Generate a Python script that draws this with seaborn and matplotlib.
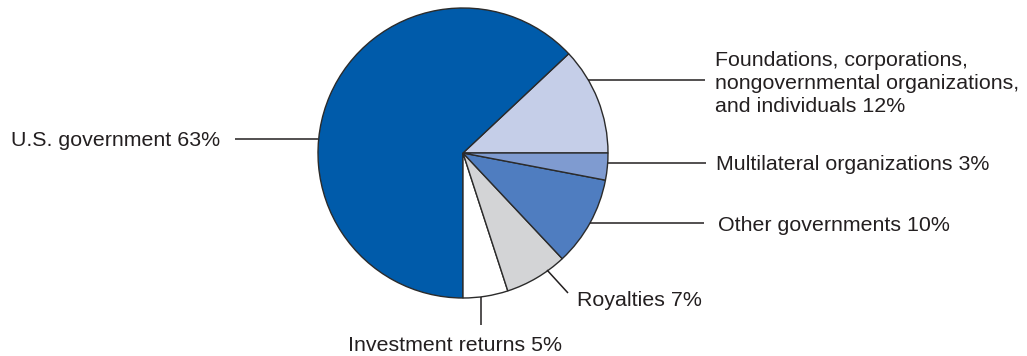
import matplotlib
matplotlib.use("Agg")
import matplotlib.pyplot as plt
import seaborn as sns

sns.set_theme(style="white")
plt.rcParams['font.family'] = ['Liberation Sans', 'DejaVu Sans']

# Data (ordered counterclockwise from 3 o'clock)
categories = ["Foundations, corporations,\nnongovernmental organizations,\nand individuals",
              "U.S. government", "Investment returns", "Royalties",
              "Other governments", "Multilateral organizations"]
shares = [12, 63, 5, 7, 10, 3]
colors = ["#C5CEE8", "#005BAA", "#FFFFFF", "#D3D4D6", "#4F7DC0", "#7F9BD0"]

W, H = 1027, 356
fig = plt.figure(figsize=(W / 100, H / 100), dpi=100)
ax = fig.add_axes([0, 0, 1, 1])

def P(x, y):
    return (x, H - y)

ax.pie(shares, colors=colors, startangle=0, counterclock=True,
       center=P(463, 153), radius=145,
       wedgeprops=dict(edgecolor="#2b2b2b", linewidth=1.0))
ax.set_xlim(0, W)
ax.set_ylim(0, H)
ax.set_aspect("equal")
ax.axis("off")

txt = "#231F20"
fs = 15.4
lw = 1.1

# label positions: (text xy [baseline of last line], align, line start, line end)
labels = [
    (categories[0] + f" {shares[0]}%", P(715, 112), "left", P(588, 80), P(705, 80)),
    (categories[1] + f" {shares[1]}%", P(11, 146), "left", P(235, 139), P(318, 139)),
    (categories[2] + f" {shares[2]}%", P(455, 351), "center", P(481, 297), P(481, 325)),
    (categories[3] + f" {shares[3]}%", P(577, 306), "left", P(547, 270), P(568, 293)),
    (categories[4] + f" {shares[4]}%", P(718, 231), "left", P(590, 223), P(704, 223)),
    (categories[5] + f" {shares[5]}%", P(716, 170), "left", P(608, 163), P(706, 163)),
]
for text, xy, ha, l0, l1 in labels:
    ax.plot([l0[0], l1[0]], [l0[1], l1[1]], color=txt, lw=lw, solid_capstyle="butt")
    ax.text(xy[0], xy[1], text, ha=ha, va="baseline", fontsize=fs, color=txt,
            linespacing=1.25)

fig.savefig("out.png", dpi=100)
